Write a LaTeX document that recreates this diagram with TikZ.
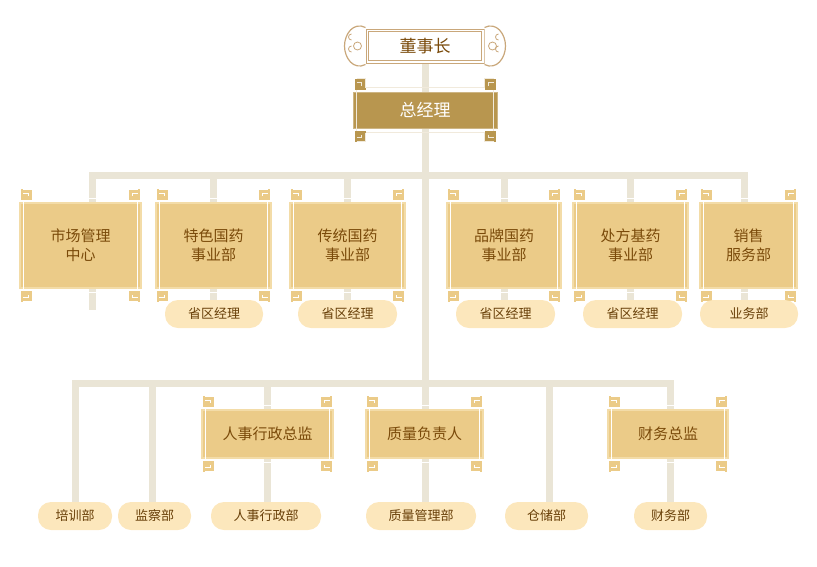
\documentclass[tikz,border=0pt]{standalone}
\usepackage{fontspec}
\setmainfont{Noto Sans CJK SC}
\usetikzlibrary{calc}
\definecolor{ln}{HTML}{EAE5D6}
\definecolor{bx}{HTML}{EBCB88}
\definecolor{bxl}{HTML}{F3DCA8}
\definecolor{tx}{HTML}{7A4A0A}
\definecolor{pl}{HTML}{FCE7BC}
\definecolor{gold}{HTML}{B8964F}
\definecolor{orn}{HTML}{C9A77A}
\tikzset{
 conn/.style={draw=ln,line width=7pt},
 dept/.style={fill=bx,draw=bxl,line width=1.5pt,text=tx,font=\fontsize{15}{19}\selectfont,align=center,inner sep=0pt},
 pill/.style={fill=pl,rounded corners=13pt,text=tx!85!black,font=\fontsize{13}{15}\selectfont,inner sep=0pt,minimum height=28pt},
}
\newcommand{\fretbox}[1]{%
 \draw[white,line width=1.2pt] ($(#1.south west)+(4,4)$) rectangle ($(#1.north east)+(-4,-4)$);
 \foreach \a/\sx/\sy in {south west/1/1,south east/-1/1,north west/1/-1,north east/-1/-1}{
  \fill[bx] ($(#1.\a)+(\sx*2,\sy*2)$) rectangle ($(#1.\a)+(\sx*13,\sy*13)$);
  \draw[white,line width=1pt] ($(#1.\a)+(\sx*4,\sy*13)$) -- ($(#1.\a)+(\sx*13,\sy*13)$) -- ($(#1.\a)+(\sx*13,\sy*4)$);
  \draw[white,line width=1pt] ($(#1.\a)+(\sx*4,\sy*9)$) -- ($(#1.\a)+(\sx*9,\sy*9)$) -- ($(#1.\a)+(\sx*9,\sy*6)$);
 }}
\begin{document}
\begin{tikzpicture}[x=1pt,y=-1pt]
\useasboundingbox (0,0) rectangle (817,566);
% connectors coordinates
\coordinate (top) at (425,60);
\coordinate (bt) at (425,175);
\coordinate (bb) at (425,383);
\draw[conn] (top) -- (bb);
\draw[conn] (92,178) -- (92,175) -- (744,175) -- (744,205);
\foreach \x in {92,213,347,504,630}{\draw[conn] (\x,175) -- (\x,310);}
\draw[conn] (744,175) -- (744,310);
\draw[conn] (75,515) -- (75,383) -- (670,383) -- (670,515);
\foreach \x in {152,267,425,549}{\draw[conn] (\x,383) -- (\x,515);}
% chairman
\node[draw=orn,line width=1pt,fill=white,minimum width=118pt,minimum height=34pt,inner sep=0pt,text=tx,font=\fontsize{17}{20}\selectfont] (ceo) at (425,46) {董事长};
\draw[orn,line width=1pt] ($(ceo.south west)+(3,-3)$) rectangle ($(ceo.north east)+(-3,3)$);
\foreach \s/\a in {-1/west,1/east}{
 \draw[orn,line width=1.2pt,fill=white] ($(ceo.north \a)+(0,-1)$) .. controls +(\s*12,-6) and +(0,-12) .. ($(ceo.\a)+(\s*21,0)$) .. controls +(0,12) and +(\s*12,6) .. ($(ceo.south \a)+(0,1)$);
 \draw[orn,line width=0.8pt] ($(ceo.\a)+(\s*8,0)$) circle (4);
 \draw[orn,line width=0.8pt] ($(ceo.\a)+(\s*14,-6)$) arc (90:270:3) ;
 \draw[orn,line width=0.8pt] ($(ceo.\a)+(\s*14,6)$) arc (-90:90:-3);
}
% GM
\node[fill=gold,draw=gold!70!white,line width=1pt,minimum width=144pt,minimum height=36pt,inner sep=0pt,text=white,font=\fontsize{17}{20}\selectfont] (gm) at (425,110) {总经理};
\draw[white!80!gold,line width=1pt] ($(gm.south west)+(4,4)$) rectangle ($(gm.north east)+(-4,-4)$);
\foreach \a/\sx/\sy in {south west/1/1,south east/-1/1,north west/1/-1,north east/-1/-1}{
  \fill[gold] ($(gm.\a)+(\sx*2,\sy*2)$) rectangle ($(gm.\a)+(\sx*13,\sy*13)$);
  \draw[white!80!gold,line width=1pt] ($(gm.\a)+(\sx*4,\sy*13)$) -- ($(gm.\a)+(\sx*13,\sy*13)$) -- ($(gm.\a)+(\sx*13,\sy*4)$);
  \draw[white!80!gold,line width=1pt] ($(gm.\a)+(\sx*4,\sy*9)$) -- ($(gm.\a)+(\sx*9,\sy*9)$) -- ($(gm.\a)+(\sx*9,\sy*6)$);}
% row 1
\node[dept,minimum width=121pt,minimum height=85pt] (d1) at (80.5,245.5) {市场管理\\中心};
\node[dept,minimum width=115pt,minimum height=85pt] (d2) at (213.5,245.5) {特色国药\\事业部};
\node[dept,minimum width=115pt,minimum height=85pt] (d3) at (347.5,245.5) {传统国药\\事业部};
\node[dept,minimum width=114pt,minimum height=85pt] (d4) at (504,245.5) {品牌国药\\事业部};
\node[dept,minimum width=115pt,minimum height=85pt] (d5) at (630.5,245.5) {处方基药\\事业部};
\node[dept,minimum width=97pt,minimum height=85pt] (d6) at (748.5,245.5) {销售\\服务部};
\foreach \n in {d1,d2,d3,d4,d5,d6}{\fretbox{\n}}
\node[pill,minimum width=98pt] (p2) at (214,314) {省区经理};
\node[pill,minimum width=99pt] (p3) at (347.5,314) {省区经理};
\node[pill,minimum width=99pt] (p4) at (505.5,314) {省区经理};
\node[pill,minimum width=99pt] (p5) at (632.5,314) {省区经理};
\node[pill,minimum width=98pt] (p6) at (749,314) {业务部};
% row 2
\node[dept,minimum width=131pt,minimum height=48pt] (e1) at (267.5,434) {人事行政总监};
\node[dept,minimum width=117pt,minimum height=48pt] (e2) at (424.5,434) {质量负责人};
\node[dept,minimum width=120pt,minimum height=48pt] (e3) at (668,434) {财务总监};
\foreach \n in {e1,e2,e3}{\fretbox{\n}}
\node[pill,minimum width=74pt] (q1) at (75,516) {培训部};
\node[pill,minimum width=73pt] (q2) at (154.5,516) {监察部};
\node[pill,minimum width=110pt] (q3) at (266,516) {人事行政部};
\node[pill,minimum width=110pt] (q4) at (421,516) {质量管理部};
\node[pill,minimum width=83pt] (q5) at (546.5,516) {仓储部};
\node[pill,minimum width=73pt] (q6) at (670.5,516) {财务部};
\end{tikzpicture}
\end{document}
